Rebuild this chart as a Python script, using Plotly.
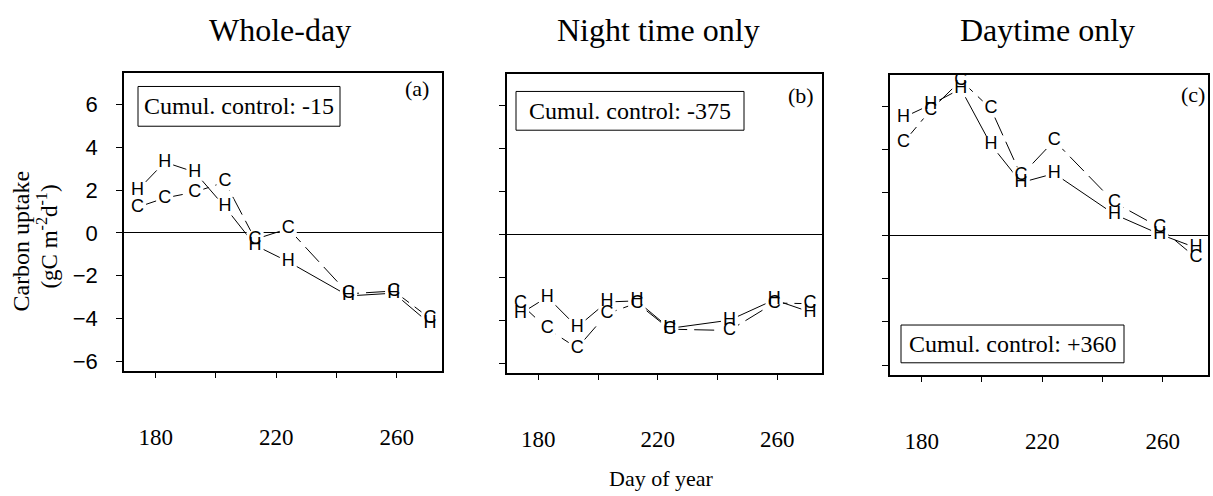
import plotly.graph_objects as go

# Sampling days (day of year)
days = [174, 183, 193, 203, 213, 224, 244, 259, 271]

# Carbon uptake (gC m-2 d-1): C = control plots, H = heated plots
whole_c = [1.20, 1.63, 1.91, 2.38, -0.30, 0.20, -2.85, -2.72, -4.00]
whole_h = [1.99, 3.31, 2.84, 1.21, -0.58, -1.35, -2.95, -2.82, -4.25]
night_c = [-3.23, -4.40, -5.30, -3.70, -3.20, -4.42, -4.48, -3.20, -3.23]
night_h = [-3.70, -2.92, -4.32, -3.15, -3.10, -4.38, -4.00, -3.05, -3.62]
day_c = [4.35, 5.85, 7.23, 5.90, 2.80, 4.43, 1.55, 0.39, -1.01]
day_h = [5.51, 6.10, 6.84, 4.24, 2.48, 2.90, 1.00, 0.08, -0.55]

titles = ["Whole-day", "Night time only", "Daytime only"]
tags = ["(a)", "(b)", "(c)"]
notes = ["Cumul. control: -15", "Cumul. control: -375", "Cumul. control: +360"]

x_ticks = [180, 200, 220, 240, 260]
x_ticktext = ["180", "", "220", "", "260"]
y_ticks = [-6, -4, -2, 0, 2, 4, 6]

W, H = 1213, 496
SERIF = "Liberation Serif, Times New Roman, serif"
SANS = "Liberation Sans, Arial, sans-serif"


def fx(p):
    return p / W


def fy(p):
    return 1 - p / H


# panel frames in pixels: left, right, top, bottom
frames = [(124, 442, 73, 373), (507, 822, 74, 375), (890, 1208, 75, 377)]
# note boxes in pixels: left, right, top, bottom
boxes = [(138, 340, 87, 127), (516, 744, 92, 131), (901, 1124, 327, 365)]
tag_pos = [(417, 89), (801, 96), (1193, 95)]
title_x = [280, 658, 1047]

series = [(whole_c, whole_h), (night_c, night_h), (day_c, day_h)]

fig = go.Figure()
layout = dict(
    width=W, height=H,
    margin=dict(l=0, r=0, t=0, b=0),
    paper_bgcolor="white", plot_bgcolor="white",
    showlegend=False,
    annotations=[], shapes=[],
)

for i, (cvals, hvals) in enumerate(series):
    n = "" if i == 0 else str(i + 1)
    xa, ya = "x" + n, "y" + n
    l, r, t, b = frames[i]

    # connecting lines
    fig.add_trace(go.Scatter(x=days, y=cvals, mode="lines", xaxis=xa, yaxis=ya,
                             line=dict(color="black", width=1, dash="20px,7px"),
                             hoverinfo="skip"))
    fig.add_trace(go.Scatter(x=days, y=hvals, mode="lines", xaxis=xa, yaxis=ya,
                             line=dict(color="black", width=1),
                             hoverinfo="skip"))
    # white pads that open a gap in the lines around each letter
    for vals in (cvals, hvals):
        fig.add_trace(go.Scatter(x=days, y=vals, mode="markers", xaxis=xa, yaxis=ya,
                                 marker=dict(symbol="square", size=17, color="white",
                                             line=dict(width=0)),
                                 hoverinfo="skip"))
    # letter symbols
    for vals, letter in ((cvals, "C"), (hvals, "H")):
        fig.add_trace(go.Scatter(x=days, y=vals, mode="text", xaxis=xa, yaxis=ya,
                                 text=[letter] * len(days), textposition="middle center",
                                 textfont=dict(family=SANS, size=18, color="black"),
                                 hoverinfo="skip"))

    axis_common = dict(showline=True, linecolor="black", linewidth=1.5, mirror=True,
                       ticks="outside", ticklen=6, tickwidth=1, tickcolor="black",
                       showgrid=False)
    layout["xaxis" + n] = dict(
        axis_common, domain=[fx(l), fx(r)], range=[169.5, 275], anchor=ya,
        tickvals=x_ticks, ticktext=x_ticktext, zeroline=False,
        tickfont=dict(family=SERIF, size=23, color="black"), ticklabelstandoff=39,
    )
    layout["yaxis" + n] = dict(
        axis_common, domain=[fy(b), fy(t)], range=[-6.45, 7.5], anchor=xa,
        tickvals=y_ticks, showticklabels=(i == 0),
        zeroline=True, zerolinecolor="black", zerolinewidth=1,
        tickfont=dict(family=SANS, size=22, color="black"), ticklabelstandoff=14,
    )

    # panel title
    layout["annotations"].append(dict(
        text=titles[i], x=fx(title_x[i]), y=fy(30), xref="paper", yref="paper",
        xanchor="center", yanchor="middle", showarrow=False,
        font=dict(family=SERIF, size=32, color="black")))
    # panel tag
    layout["annotations"].append(dict(
        text=tags[i], x=fx(tag_pos[i][0]), y=fy(tag_pos[i][1]), xref="paper", yref="paper",
        xanchor="center", yanchor="middle", showarrow=False,
        font=dict(family=SERIF, size=22, color="black")))
    # cumulative note in a box
    bl, br, bt, bb = boxes[i]
    layout["shapes"].append(dict(
        type="rect", xref="paper", yref="paper",
        x0=fx(bl), x1=fx(br), y0=fy(bb), y1=fy(bt),
        line=dict(color="black", width=1), fillcolor="white", layer="above"))
    layout["annotations"].append(dict(
        text=notes[i], x=fx((bl + br) / 2), y=fy((bt + bb) / 2), xref="paper", yref="paper",
        xanchor="center", yanchor="middle", showarrow=False,
        font=dict(family=SERIF, size=24, color="black")))

# shared axis titles
layout["annotations"].append(dict(
    text="Day of year", x=fx(661), y=fy(481), xref="paper", yref="paper",
    xanchor="center", yanchor="middle", showarrow=False,
    font=dict(family=SERIF, size=22, color="black")))
layout["annotations"].append(dict(
    text="Carbon uptake", x=fx(21), y=fy(243), xref="paper", yref="paper",
    xanchor="center", yanchor="middle", showarrow=False, textangle=-90,
    font=dict(family=SERIF, size=24, color="black")))
layout["annotations"].append(dict(
    text="(gC m<sup>-2</sup>d<sup>-1</sup>)", x=fx(48), y=fy(238), xref="paper", yref="paper",
    xanchor="center", yanchor="middle", showarrow=False, textangle=-90,
    font=dict(family=SERIF, size=23, color="black")))

fig.update_layout(**layout)
fig.write_html("out.html")
